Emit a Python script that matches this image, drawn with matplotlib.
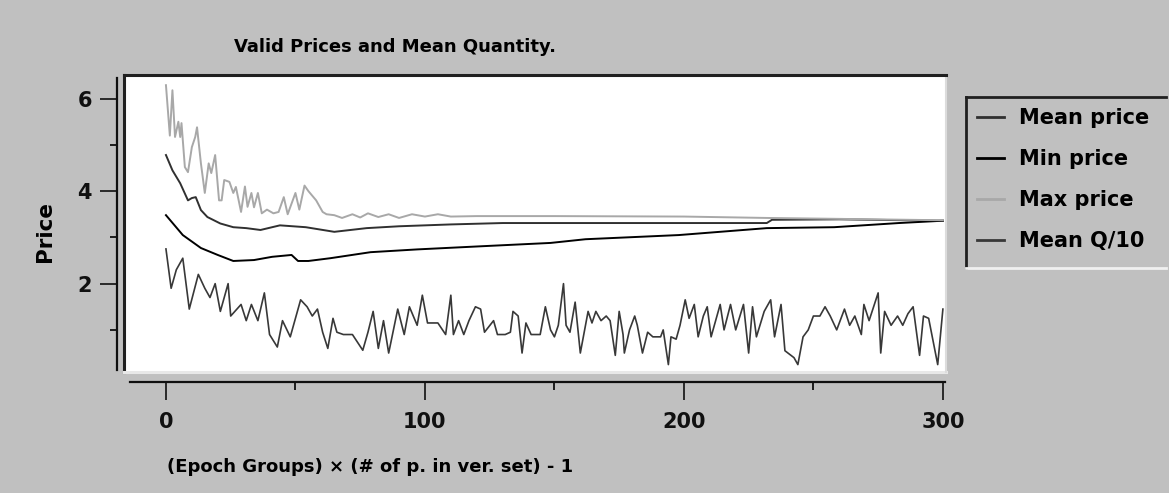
import matplotlib.pyplot as plt
from matplotlib.lines import Line2D
from matplotlib.ticker import MultipleLocator

plt.rcParams['font.family'] = ['DejaVu Sans']
plt.rcParams['font.weight'] = 'bold'

# ------------------------------------------------------------------
# Data
# ------------------------------------------------------------------
q_x = [0, 2, 4, 6.5, 9, 12.5, 15, 17, 19, 21, 24, 25, 29, 31, 33, 35.5, 38, 40,
       43, 45, 48, 52, 54.5, 56.5, 58.5, 60.5, 62.5, 64.5, 66, 68.5, 72, 76, 78,
       80, 82, 84, 86, 89.5, 92, 94, 97, 99, 101, 105, 108, 110, 111, 113, 115,
       117, 119.5, 121.5, 123, 126.5, 128, 131, 133, 134, 136, 137.5, 139, 141,
       144.5, 146.5, 148.5, 150, 151.5, 153.5, 154.5, 156, 158, 160, 163, 164.5,
       166, 168, 170, 171.5, 173.5, 175, 176.5, 177, 179, 181, 182, 184, 186,
       188, 191, 192, 194, 195, 197, 198.5, 200.5, 202, 204, 205.5, 207.5, 209,
       210.5, 214, 215.5, 218, 220, 223, 225, 226.5, 228, 231, 233.5, 235,
       237.5, 239, 242.5, 244, 246, 248, 250, 252.5, 254.5, 256.5, 259, 262,
       264, 266, 268.5, 269.5, 271.5, 275, 276, 277.5, 280, 282.5, 284.5, 286.5,
       288.5, 291, 292.5, 294.5, 298, 300]
q_y = [2.75, 1.9, 2.3, 2.55, 1.45, 2.2, 1.9, 1.7, 2.0, 1.4, 2.0, 1.3, 1.55, 1.2,
       1.55, 1.2, 1.8, 0.9, 0.63, 1.2, 0.85, 1.65, 1.5, 1.3, 1.45, 0.95, 0.6,
       1.25, 0.95, 0.9, 0.9, 0.56, 0.95, 1.4, 0.6, 1.2, 0.5, 1.45, 0.9, 1.5, 1.1,
       1.75, 1.15, 1.15, 0.9, 1.75, 0.9, 1.2, 0.9, 1.2, 1.5, 1.45, 0.95, 1.2,
       0.9, 0.9, 0.95, 1.4, 1.3, 0.5, 1.15, 0.9, 0.9, 1.5, 1.0, 0.85, 1.1, 2.0,
       1.1, 0.95, 1.6, 0.5, 1.4, 1.15, 1.4, 1.2, 1.3, 1.2, 0.45, 1.4, 0.9, 0.5,
       1.0, 1.3, 1.1, 0.5, 0.95, 0.85, 0.85, 1.0, 0.25, 0.85, 0.8, 1.1, 1.65,
       1.25, 1.55, 0.85, 1.3, 1.5, 0.85, 1.55, 1.0, 1.55, 1.0, 1.55, 0.5, 1.5,
       0.85, 1.4, 1.65, 0.85, 1.55, 0.55, 0.4, 0.25, 0.85, 1.0, 1.3, 1.3, 1.5,
       1.3, 1.0, 1.45, 1.1, 1.3, 0.9, 1.55, 1.2, 1.8, 0.5, 1.4, 1.1, 1.3, 1.1,
       1.35, 1.5, 0.45, 1.3, 1.25, 0.25, 1.45]

max_x = [0, 1.5, 2.5, 3.5, 4.8, 5.5, 6, 7.3, 8.5, 10, 11.3, 12, 13.5, 15, 16.5,
         17.5, 19, 20.5, 21.5, 22.5, 24.5, 26, 27, 29, 30.5, 31.5, 33, 34, 35.5,
         37, 39, 41.5, 43.5, 45.5, 47, 50, 51.5, 53.5, 55, 58, 60.5, 62, 65, 68,
         72, 75, 78, 82, 86, 90, 95, 100, 105, 110, 120, 150, 200, 232, 260, 300]
max_y = [6.29, 5.2, 6.18, 5.17, 5.5, 5.17, 5.47, 4.52, 4.41, 4.95, 5.17, 5.38,
         4.6, 3.96, 4.6, 4.39, 4.78, 3.8, 3.8, 4.24, 4.2, 3.96, 4.09, 3.55, 4.1,
         3.66, 3.96, 3.65, 3.96, 3.52, 3.6, 3.52, 3.55, 3.87, 3.5, 3.96, 3.6,
         4.12, 4.0, 3.8, 3.55, 3.5, 3.48, 3.42, 3.5, 3.43, 3.52, 3.44, 3.5,
         3.42, 3.5, 3.45, 3.5, 3.45, 3.46, 3.46, 3.45, 3.42, 3.4, 3.37]

mean_x = [0, 2.5, 5.5, 8.5, 10, 11.5, 13.5, 16, 21, 26, 31, 36.5, 44, 54, 65,
          77.5, 90, 110, 130, 232, 234, 260, 300]
mean_y = [4.78, 4.45, 4.17, 3.8, 3.85, 3.87, 3.59, 3.44, 3.3, 3.22, 3.2, 3.16,
          3.26, 3.22, 3.12, 3.2, 3.24, 3.28, 3.31, 3.31, 3.38, 3.39, 3.36]

min_x = [0, 6.5, 13.5, 20, 26, 34, 41, 48.5, 51, 55, 63.5, 79, 97, 122.5, 148.5,
         162, 198, 232, 258, 283, 300]
min_y = [3.48, 3.05, 2.77, 2.62, 2.49, 2.51, 2.58, 2.62, 2.49, 2.49, 2.55, 2.68,
         2.74, 2.81, 2.88, 2.96, 3.05, 3.2, 3.22, 3.31, 3.36]

labels = ['Mean price', 'Min price', 'Max price', 'Mean Q/10']
colors = ['#303030', '#000000', '#a8a8a8', '#383838']

BG = '#c0c0c0'

# ------------------------------------------------------------------
# Figure
# ------------------------------------------------------------------
fig = plt.figure(figsize=(11.69, 4.93), dpi=100, facecolor=BG)
ax = fig.add_axes([124 / 1169, 1 - 372 / 493, 822 / 1169, 297 / 493])
ax.set_facecolor('white')

ax.plot(mean_x, mean_y, color=colors[0], lw=1.4, label=labels[0])
ax.plot(min_x, min_y, color=colors[1], lw=1.4, label=labels[1])
ax.plot(max_x, max_y, color=colors[2], lw=1.4, label=labels[2])
ax.plot(q_x, q_y, color=colors[3], lw=1.2, label=labels[3])

ax.set_xlim(-16.2, 301.2)
ax.set_ylim(0.09, 6.51)

# detached axis lines
ax.spines['left'].set_position(('outward', 5))
ax.spines['bottom'].set_position(('outward', 7))
ax.spines['left'].set_bounds(0.13, 6.44)
ax.spines['bottom'].set_bounds(-13.9, 300.8)
for s in ['left', 'bottom']:
    ax.spines[s].set_linewidth(1.6)
    ax.spines[s].set_color('#101010')
ax.spines['top'].set_linewidth(2.2)
ax.spines['top'].set_color('#202020')
ax.spines['right'].set_linewidth(1.5)
ax.spines['right'].set_color('#dcdcdc')

# plot box edges (left dark, bottom light)
ax.add_line(Line2D([0, 0], [0, 1], transform=ax.transAxes, color='#202020',
                   lw=2.2, clip_on=False))
ax.add_line(Line2D([0, 1], [0, 0], transform=ax.transAxes, color='#e8e8e8',
                   lw=2.2, clip_on=False))

ax.xaxis.set_major_locator(MultipleLocator(100))
ax.xaxis.set_minor_locator(MultipleLocator(50))
ax.yaxis.set_major_locator(MultipleLocator(2))
ax.yaxis.set_minor_locator(MultipleLocator(1))
ax.tick_params(axis='x', which='major', length=13, width=1.2, pad=9,
               labelsize=15, colors='#101010')
ax.tick_params(axis='x', which='minor', length=6, width=1.2)
ax.tick_params(axis='y', which='major', length=12, width=1.2, pad=6,
               labelsize=15, colors='#101010')
ax.tick_params(axis='y', which='minor', length=5, width=1.2)
for lab in ax.get_xticklabels() + ax.get_yticklabels():
    lab.set_fontweight('bold')

fig.text(395 / 1169, 1 - 47 / 493, 'Valid Prices and Mean Quantity.',
         ha='center', va='center', fontsize=13, fontweight='bold')
fig.text(370 / 1169, 1 - 467 / 493, '(Epoch Groups) \u00d7 (# of p. in ver. set) - 1',
         ha='center', va='center', fontsize=13, fontweight='bold')
fig.text(45 / 1169, 1 - 232 / 493, 'Price', rotation=90,
         ha='center', va='center', fontsize=15.5, fontweight='bold')

# legend with bevelled box
leg = fig.legend(loc='upper left', bbox_to_anchor=(969 / 1169, 1 - 100 / 493),
                 frameon=False, fontsize=15, handlelength=1.3,
                 handletextpad=0.7, labelspacing=1.0, borderaxespad=0)
for t in leg.get_texts():
    t.set_fontweight('bold')
for h in leg.legend_handles:
    h.set_linewidth(2)

fx0, fx1 = 966 / 1169, 1166 / 1169
fy0, fy1 = 1 - 268 / 493, 1 - 97 / 493
fig.add_artist(Line2D([fx0, fx1], [fy1, fy1], color='#202020', lw=2))
fig.add_artist(Line2D([fx0, fx0], [fy0, fy1], color='#202020', lw=2))
fig.add_artist(Line2D([fx0, fx1], [fy0, fy0], color='#f0f0f0', lw=2))

fig.savefig('out.png', dpi=100, facecolor=BG)
